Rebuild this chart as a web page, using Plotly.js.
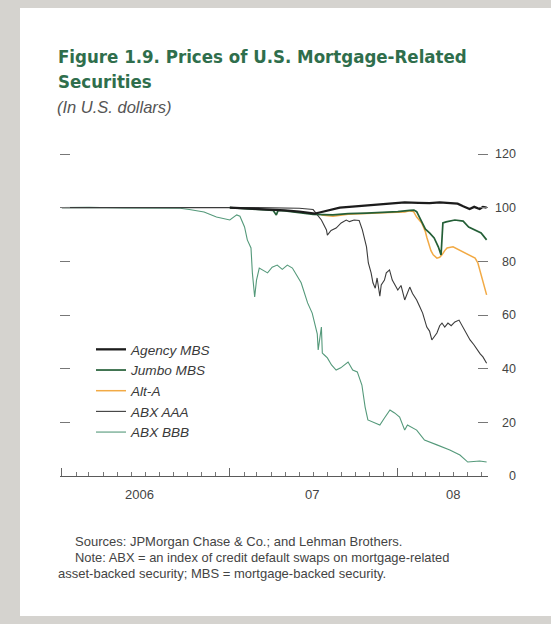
<!DOCTYPE html>
<html>
<head>
<meta charset="utf-8">
<script src="https://cdn.plot.ly/plotly-3.0.1.min.js"></script>
<style>
  html, body { margin:0; padding:0; width:551px; height:624px; background:#d5d3cf; overflow:hidden; }
  #panel { position:absolute; left:20px; top:8px; width:531px; height:608px; background:#ffffff; }
  #chart { position:absolute; left:0; top:0; width:551px; height:624px; }
</style>
</head>
<body>
<div id="panel"></div>
<div id="chart"></div>
<script>
// ---- Data ----
const agencyDates = ['2007-01-01','2007-02-01','2007-03-01','2007-04-01','2007-05-01','2007-06-01','2007-06-20','2007-07-05','2007-07-15','2007-08-01','2007-08-28','2007-10-01','2007-11-08','2007-12-01','2008-01-16','2008-02-15','2008-03-10','2008-04-01','2008-04-20','2008-05-10','2008-05-22','2008-06-05','2008-06-15','2008-06-27','2008-07-04','2008-07-12'];
const agencyVals  = [100,99.8,99.6,99.3,99.0,98.5,98.0,97.8,98.2,99.0,100,100.5,101,101.5,102,101.8,101.7,102,101.8,101.5,100.5,99.5,100.3,99.5,100.3,100];

const jumboDates = ['2007-01-01','2007-02-01','2007-03-01','2007-04-05','2007-04-12','2007-04-16','2007-05-01','2007-06-01','2007-07-01','2007-08-13','2007-09-15','2007-10-25','2007-12-01','2008-01-01','2008-01-27','2008-02-05','2008-02-11','2008-02-20','2008-03-01','2008-03-10','2008-03-20','2008-03-29','2008-04-04','2008-04-08','2008-04-15','2008-05-04','2008-05-22','2008-06-03','2008-06-15','2008-06-30','2008-07-12'];
const jumboVals  = [100,99.7,99.4,99.0,97.3,99.0,98.8,98.2,97.5,97.3,97.8,98.0,98.3,98.5,99.0,99.1,98.5,95.4,92.0,90.6,88.7,85.4,82.4,94.3,94.7,95.4,95.0,92.8,91.7,90.6,88];

const altaDates = ['2007-07-19','2007-08-13','2007-09-15','2007-10-15','2007-11-15','2007-12-15','2008-01-16','2008-01-27','2008-02-04','2008-02-11','2008-02-22','2008-03-01','2008-03-04','2008-03-13','2008-03-18','2008-03-26','2008-04-01','2008-04-06','2008-04-12','2008-04-17','2008-04-30','2008-05-13','2008-05-22','2008-06-01','2008-06-17','2008-06-23','2008-06-28','2008-07-02','2008-07-07','2008-07-12'];
const altaVals  = [97.3,96.8,97.5,97.8,98.0,98.2,98.4,98.8,98.6,96.5,94.3,91.0,89.0,84.0,82.4,81.2,81.5,82.4,84.0,85.0,85.4,84.2,83.5,82.4,81.2,79.4,76.0,74.2,70.4,67.5];

const aaaDates = ['2006-01-01','2006-06-01','2006-12-01','2007-03-01','2007-06-01','2007-07-01','2007-07-10','2007-07-19','2007-07-30','2007-08-01','2007-08-09','2007-08-20','2007-08-31','2007-09-11','2007-09-18','2007-09-28','2007-10-09','2007-10-16','2007-10-25','2007-10-29','2007-11-04','2007-11-08','2007-11-13','2007-11-17','2007-11-23','2007-11-26','2007-12-03','2007-12-07','2007-12-14','2007-12-20','2008-01-01','2008-01-08','2008-01-16','2008-01-22','2008-01-27','2008-02-02','2008-02-11','2008-02-18','2008-02-24','2008-03-04','2008-03-10','2008-03-15','2008-03-20','2008-03-26','2008-04-01','2008-04-06','2008-04-12','2008-04-19','2008-04-26','2008-05-04','2008-05-13','2008-05-22','2008-05-30','2008-06-06','2008-06-14','2008-06-21','2008-06-28','2008-07-04','2008-07-12'];
const aaaVals  = [100,100.1,100,100,99.8,99.3,97.3,95.4,91.7,89.8,91.5,92.4,94.3,95.4,94.8,95.4,95.2,91.7,85.4,79.4,75.7,72.0,70.0,73.8,67.0,71.2,73.0,75.7,76.8,73.0,69.3,71.0,65.6,68.0,70.4,68.0,65.6,63.0,60.7,55.5,54.0,50.7,52.0,53.3,56.0,57.0,55.5,57.0,56.0,57.4,58.1,55.2,53.0,50.7,49.0,47.0,45.5,44.4,42];

const bbbDates = ['2006-01-01','2006-03-01','2006-05-15','2006-08-01','2006-09-15','2006-10-05','2006-11-06','2006-12-03','2006-12-20','2007-01-01','2007-01-16','2007-01-23','2007-02-02','2007-02-08','2007-02-16','2007-02-19','2007-02-24','2007-02-28','2007-03-06','2007-03-12','2007-03-24','2007-04-03','2007-04-14','2007-04-25','2007-05-06','2007-05-17','2007-05-26','2007-06-05','2007-06-19','2007-06-29','2007-07-10','2007-07-12','2007-07-19','2007-07-21','2007-07-26','2007-08-01','2007-08-10','2007-08-20','2007-08-30','2007-09-15','2007-09-25','2007-10-05','2007-10-15','2007-10-22','2007-10-28','2007-11-08','2007-11-23','2007-12-03','2007-12-15','2007-12-25','2008-01-05','2008-01-16','2008-01-22','2008-02-11','2008-02-28','2008-03-26','2008-04-23','2008-05-15','2008-06-01','2008-06-27','2008-07-12'];
const bbbVals  = [100,100.1,99.9,100,99.8,99.3,98.4,96.5,96.0,95.4,97.3,96.8,92.8,88.0,85.0,75.7,66.7,73.0,77.5,76.8,75.7,77.8,78.6,77.0,78.6,77.5,75.0,72.0,64.5,60.7,53.0,47.0,55.5,45.8,45.0,44.0,41.4,39.5,40.3,42.5,39.5,38.8,33.9,25.7,20.9,20.1,19.0,21.6,24.6,23.5,22.0,17.1,19.0,17.1,13.4,11.6,9.7,7.8,5.2,5.6,5.2];

const seriesNames = ['Agency MBS','Jumbo MBS','Alt-A','ABX AAA','ABX BBB'];
const yTickVals  = [0,20,40,60,80,100,120];
const yTickText  = ['\u2007\u20070','\u200720','\u200740','\u200760','\u200780','100','120'];
const yearTicks  = ['2006-01-01','2007-01-01','2008-01-01'];
const yearLabelDates = ['2006-06-19','2007-06-28','2008-04-30'];
const yearLabels = ['2006','07','08'];

const FONT = 'Liberation Sans, Arial, sans-serif';
const NARROW = 'DejaVu Sans Condensed, Arial Narrow, sans-serif';

// plot area in pixels: x 60..488, y 148..476 (value 0..122.236; 120 sits at y=154)
const PL = 60, PR = 488, PT = 148, PB = 476;
const YTOP = 122.236;
const px = x => (x - PL) / (PR - PL);
const py = y => (PB - y) / (PB - PT);

function tr(name, x, y, color, width, rank){
  return {type:'scatter', mode:'lines', name:name, x:x, y:y,
          line:{color:color, width:width}, legendrank:rank, hoverinfo:'skip'};
}
const traces = [
  tr(seriesNames[4], bbbDates, bbbVals, '#54997a', 1.1, 5),
  tr(seriesNames[3], aaaDates, aaaVals, '#3b3b3b', 1.1, 4),
  tr(seriesNames[2], altaDates, altaVals, '#f2aa45', 1.5, 3),
  tr(seriesNames[1], jumboDates, jumboVals, '#245f37', 1.7, 2),
  tr(seriesNames[0], agencyDates, agencyVals, '#1c1c1c', 2.3, 1)
];

const annotations = [
  {xref:'paper', yref:'paper', x:px(56), y:py(56.5), xanchor:'left', yanchor:'middle', align:'left', showarrow:false,
   text:'<b>Figure 1.9. Prices of U.S. Mortgage-Related</b>',
   font:{family:NARROW, size:18.5, color:'#2f6e4c'}},
  {xref:'paper', yref:'paper', x:px(56), y:py(81.5), xanchor:'left', yanchor:'middle', align:'left', showarrow:false,
   text:'<b>Securities</b>',
   font:{family:NARROW, size:18.5, color:'#2f6e4c'}},
  {xref:'paper', yref:'paper', x:px(55), y:py(107.5), xanchor:'left', yanchor:'middle', align:'left', showarrow:false,
   text:'<i>(In U.S. dollars)</i>', font:{family:FONT, size:16.5, color:'#555555'}},
  {xref:'paper', yref:'paper', x:px(73), y:py(541), xanchor:'left', yanchor:'middle', align:'left', showarrow:false,
   text:'Sources: JPMorgan Chase &amp; Co.; and Lehman Brothers.', font:{family:FONT, size:13, color:'#444444'}},
  {xref:'paper', yref:'paper', x:px(73), y:py(557), xanchor:'left', yanchor:'middle', align:'left', showarrow:false,
   text:'Note: ABX = an index of credit default swaps on mortgage-related', font:{family:FONT, size:12.9, color:'#444444'}},
  {xref:'paper', yref:'paper', x:px(56), y:py(573), xanchor:'left', yanchor:'middle', align:'left', showarrow:false,
   text:'asset-backed security; MBS = mortgage-backed security.', font:{family:FONT, size:13, color:'#444444'}}
];
yearLabels.forEach((t,i)=>{
  annotations.push({xref:'x', yref:'paper', x:yearLabelDates[i], y:py(494), xanchor:'center', yanchor:'middle',
    showarrow:false, text:t, font:{family:FONT, size:13, color:'#444444'}});
});

const layout = {
  width:551, height:624,
  margin:{l:PL, r:551-PR, t:PT, b:624-PB, pad:0},
  paper_bgcolor:'rgba(0,0,0,0)', plot_bgcolor:'rgba(0,0,0,0)',
  showlegend:true,
  legend:{x:px(91), y:py(334), xanchor:'left', yanchor:'top', bgcolor:'rgba(0,0,0,0)',
          font:{family:FONT, size:13.6, color:'#3a3a3a', style:'italic'}, itemwidth:30, traceorder:'normal'},
  xaxis:{type:'date', range:['2005-12-28','2008-07-15'], showgrid:false, zeroline:false,
         showline:true, linecolor:'#5a5a5a', linewidth:1.2,
         tickmode:'array', tickvals:yearTicks, ticks:'inside', ticklen:8, tickwidth:1.1, tickcolor:'#666666',
         showticklabels:false,
         minor:{dtick:'M1', tick0:'2006-01-01', ticks:'inside', ticklen:4, tickwidth:1, tickcolor:'#777777', showgrid:false}},
  yaxis:{range:[0,YTOP], side:'right', showgrid:false, zeroline:false, showline:false,
         tickmode:'array', tickvals:yTickVals, ticktext:yTickText,
         ticks:'inside', ticklen:10, tickwidth:1, tickcolor:'#777777', mirror:'ticks',
         ticklabelstandoff:6, tickfont:{family:FONT, size:12.5, color:'#444444'}},
  annotations:annotations
};

Plotly.newPlot('chart', traces, layout, {staticPlot:true, displayModeBar:false});
</script>
</body>
</html>
